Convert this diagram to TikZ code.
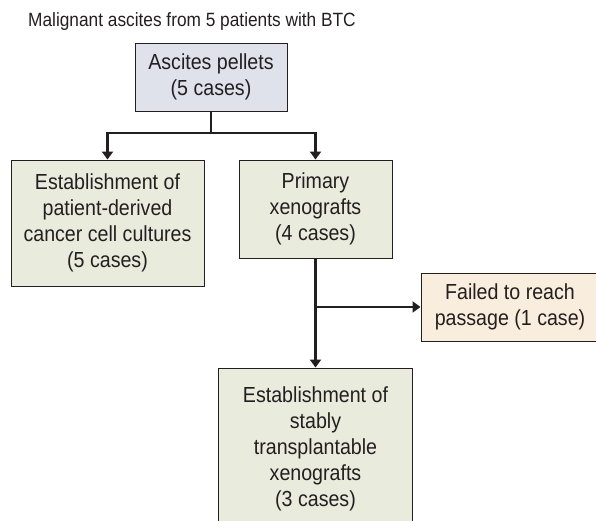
\documentclass[tikz,border=0pt]{standalone}
\usepackage{fontspec}
\setmainfont[FakeStretch=0.9]{Liberation Sans}
\usetikzlibrary{arrows.meta}
\definecolor{inkgray}{RGB}{35,31,32}
\definecolor{pelletfill}{RGB}{223,225,235}
\definecolor{cellfill}{RGB}{233,235,221}
\definecolor{failfill}{RGB}{249,238,221}
\tikzset{
  box/.style={draw=inkgray, line width=0.9pt, align=center, inner sep=2pt, text=inkgray, font=\fontsize{21.8}{26}\selectfont},
  pelletbox/.style={box, fill=pelletfill},
  cellbox/.style={box, fill=cellfill},
  failbox/.style={box, fill=failfill},
  link/.style={line width=2.8pt, draw=inkgray},
  arrow/.style={link, -{Triangle[length=8pt,width=11pt]}}
}

\begin{document}
\begin{tikzpicture}[x=1pt, y=-1pt]
  \useasboundingbox (0,0) rectangle (596,521);
  \node[anchor=base west, inner sep=0pt, text=inkgray, font=\fontsize{19.2}{23}\selectfont] (title) at (28,27) {Malignant ascites from 5 patients with BTC};
  \node[pelletbox, minimum width=152pt, minimum height=68pt] (pellets) at (211,77) {Ascites pellets\\(5 cases)};
  \node[cellbox, minimum width=193pt, minimum height=126pt] (cultures) at (107.5,223) {Establishment of\\patient-derived\\cancer cell cultures\\(5 cases)};
  \node[cellbox, minimum width=153pt, minimum height=98pt] (primary) at (315.5,209) {Primary\\xenografts\\(4 cases)};
  \node[failbox, minimum width=178pt, minimum height=68pt] (failed) at (510,307) {Failed to reach\\passage (1 case)};
  \node[cellbox, minimum width=194pt, minimum height=162pt] (stable) at (315.5,449) {Establishment of\\stably\\transplantable\\xenografts\\(3 cases)};

  % split below the pellets
  \coordinate (split) at (211,133);
  \draw[link] (pellets.south) -- (split);
  \draw[arrow] (split) -| (cultures.north);
  \draw[arrow] (split) -| (primary.north);

  % primary xenografts: passage or failure
  \coordinate (branch) at (primary.south |- failed.west);
  \draw[arrow] (primary.south) -- (stable.north);
  \draw[arrow] (branch) -- (failed.west);
\end{tikzpicture}
\end{document}
